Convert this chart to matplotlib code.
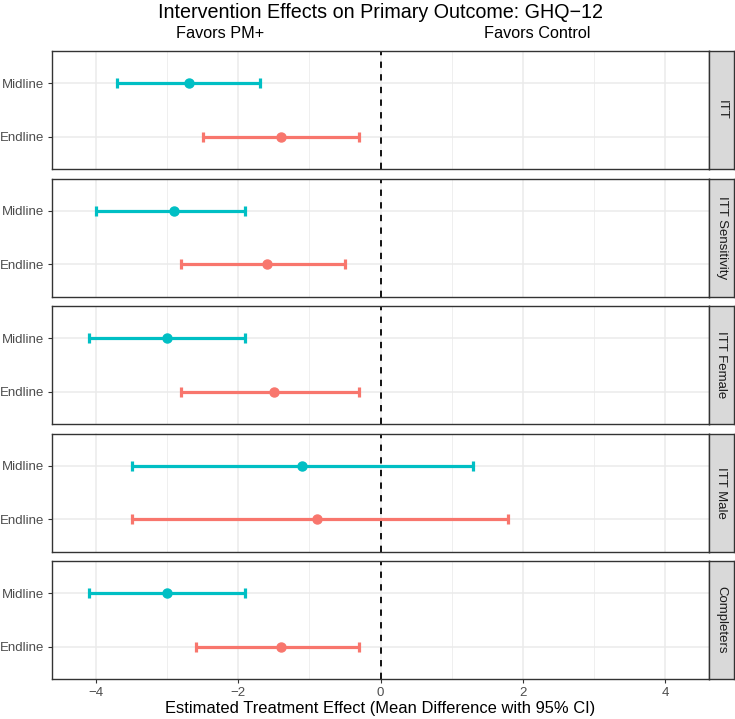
import numpy as np
import matplotlib.pyplot as plt

plt.rcParams['font.family'] = ['Liberation Sans', 'DejaVu Sans']

# facets, top to bottom
analyses = ['ITT', 'ITT Sensitivity', 'ITT Female', 'ITT Male', 'Completers']
timepoints = ['Midline', 'Endline']

# point estimates and 95% CI (midline, endline) per analysis
mid_est = [-2.7, -2.9, -3.0, -1.1, -3.0]
mid_lo = [-3.7, -4.0, -4.1, -3.5, -4.1]
mid_hi = [-1.7, -1.9, -1.9, 1.3, -1.9]
end_est = [-1.4, -1.6, -1.5, -0.9, -1.4]
end_lo = [-2.5, -2.8, -2.8, -3.5, -2.6]
end_hi = [-0.3, -0.5, -0.3, 1.8, -0.3]

col_mid = '#00BFC4'
col_end = '#F8766D'

W, H = 735, 719
fig = plt.figure(figsize=(W / 100, H / 100), dpi=100)

left, right, strip_r = 52, 709, 734
tops = [51, 178.5, 306, 433.5, 561]
ph = 118

def fx(px):
    return px / W

def fy(py):
    return 1 - py / H

for i, name in enumerate(analyses):
    ax = fig.add_axes([fx(left), fy(tops[i] + ph), fx(right - left), ph / H])
    ax.set_xlim(-4.62, 4.62)
    ax.set_ylim(0.4, 2.6)
    ax.set_xticks([-4, -2, 0, 2, 4])
    ax.set_xticks([-3, -1, 1, 3], minor=True)
    ax.set_yticks([2, 1])
    ax.set_yticklabels(timepoints)
    ax.grid(True, which='major', color='#EBEBEB', lw=1.1, zorder=0)
    ax.grid(True, which='minor', axis='x', color='#EBEBEB', lw=0.55, zorder=0)
    ax.set_axisbelow(True)
    for s in ax.spines.values():
        s.set_color('#333333')
        s.set_linewidth(1.0)
    ax.tick_params(axis='both', which='major', length=3.2, width=0.8, color='#333333',
                   labelcolor='#4D4D4D', labelsize=9.5, pad=2.2)
    ax.tick_params(axis='x', which='minor', length=0)
    if i < len(analyses) - 1:
        ax.tick_params(axis='x', which='major', length=0, labelbottom=False)

    ax.axvline(0, color='black', ls=(0, (3.5, 3.5)), lw=1.3, zorder=2)

    ax.errorbar(mid_est[i], 2, xerr=[[mid_est[i] - mid_lo[i]], [mid_hi[i] - mid_est[i]]],
                fmt='o', color=col_mid, ms=6.5, lw=2.3, capsize=3.6, capthick=2.3, zorder=3)
    ax.errorbar(end_est[i], 1, xerr=[[end_est[i] - end_lo[i]], [end_hi[i] - end_est[i]]],
                fmt='o', color=col_end, ms=6.5, lw=2.3, capsize=3.6, capthick=2.3, zorder=3)

    # facet strip on the right
    sx = fig.add_axes([fx(right), fy(tops[i] + ph), fx(strip_r - right), ph / H])
    sx.set_facecolor('#D9D9D9')
    sx.set_xticks([])
    sx.set_yticks([])
    for s in sx.spines.values():
        s.set_color('#333333')
        s.set_linewidth(1.0)
    sx.text(0.5, 0.5, name, rotation=-90, ha='center', va='center',
            fontsize=9.5, color='#1A1A1A', transform=sx.transAxes)

    if i == len(analyses) - 1:
        ax.set_xlabel('Estimated Treatment Effect (Mean Difference with 95% CI)',
                      fontsize=11.9, color='black', labelpad=2)

fig.text(fx(381), fy(12), 'Intervention Effects on Primary Outcome: GHQ\u221212',
         ha='center', va='center', fontsize=14.2)
fig.text(fx(220), fy(33), 'Favors PM+', ha='center', va='center', fontsize=11.7)
fig.text(fx(537), fy(33), 'Favors Control', ha='center', va='center', fontsize=11.7)

fig.savefig('out.png', dpi=100)
